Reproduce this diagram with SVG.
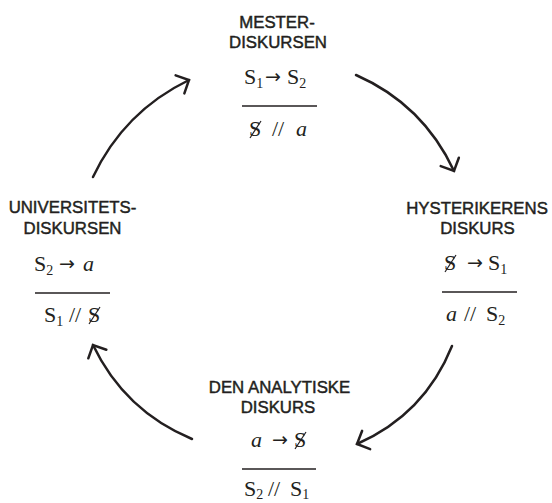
<svg xmlns="http://www.w3.org/2000/svg" width="552" height="503" viewBox="0 0 552 503">
<style>
.h{font-family:"Liberation Sans",Arial,sans-serif;font-size:16.8px;fill:#231f20;stroke:#231f20;stroke-width:0.45;text-anchor:middle}
.f{font-family:"Liberation Serif","Times New Roman",serif;font-size:22px;fill:#231f20}
.s{font-size:14px}
.i{font-style:italic}
.ar{font-family:"DejaVu Sans",sans-serif;font-size:19px;fill:#231f20}
.bar{stroke:#231f20;stroke-width:1.6}
.sl{stroke:#231f20;stroke-width:1.2}
.arr{fill:none;stroke:#231f20;stroke-width:2.5;stroke-linecap:round;marker-end:url(#ah)}
</style>
<defs>
<marker id="ah" markerUnits="userSpaceOnUse" markerWidth="30" markerHeight="30" viewBox="-15 -15 30 30" refX="0" refY="0" orient="auto">
<path d="M-10,-10 L0,0 L-10,10" fill="none" stroke="#231f20" stroke-width="2.5" stroke-linecap="round" stroke-linejoin="miter"/>
</marker>
</defs>
<g id="connectors">
<path class="arr" d="M93,177 Q124,111.5 189,80"/>
<path class="arr" d="M356,75 Q423,104.4 454,171"/>
<path class="arr" d="M452,346 Q424.5,414.4 357,444"/>
<path class="arr" d="M192,439 Q124.5,410.8 93,345"/>
</g>
<g id="mester">
<text class="h" x="277" y="28">MESTER-</text>
<text class="h" x="278" y="48">DISKURSEN</text>
<text class="f" x="244" y="84">S<tspan class="s" dy="4">1</tspan></text>
<text class="ar" x="265" y="83">→</text>
<text class="f" x="287" y="84">S<tspan class="s" dy="4">2</tspan></text>
<line class="bar" x1="242" y1="106" x2="317" y2="106"/>
<text class="f" x="249" y="136">S</text>
<line class="sl" x1="250" y1="138" x2="261" y2="121"/>
<text class="f" x="272" y="136">//</text>
<text class="f i" x="296" y="136">a</text>
</g>
<g id="universitet">
<text class="h" x="72.5" y="213">UNIVERSITETS-</text>
<text class="h" x="72.5" y="234">DISKURSEN</text>
<text class="f" x="34" y="271">S<tspan class="s" dy="4">2</tspan></text>
<text class="ar" x="59" y="270">→</text>
<text class="f i" x="83" y="271">a</text>
<line class="bar" x1="35" y1="293" x2="110" y2="293"/>
<text class="f" x="44" y="322">S<tspan class="s" dy="4">1</tspan></text>
<text class="f" x="69" y="322">//</text>
<text class="f" x="88" y="322">S</text>
<line class="sl" x1="89" y1="324" x2="100" y2="307"/>
</g>
<g id="hysteriker">
<text class="h" x="477" y="214">HYSTERIKERENS</text>
<text class="h" x="477.5" y="234">DISKURS</text>
<text class="f" x="444" y="270">S</text>
<line class="sl" x1="445" y1="272" x2="456" y2="255"/>
<text class="ar" x="467" y="269">→</text>
<text class="f" x="488" y="270">S<tspan class="s" dy="4">1</tspan></text>
<line class="bar" x1="442" y1="292" x2="517" y2="292"/>
<text class="f i" x="446" y="321">a</text>
<text class="f" x="464" y="321">//</text>
<text class="f" x="486" y="321">S<tspan class="s" dy="4">2</tspan></text>
</g>
<g id="analytiker">
<text class="h" x="279.5" y="393">DEN ANALYTISKE</text>
<text class="h" x="278" y="413">DISKURS</text>
<text class="f i" x="251" y="447">a</text>
<text class="ar" x="272" y="446">→</text>
<text class="f" x="294" y="447">S</text>
<line class="sl" x1="295" y1="449" x2="306" y2="432"/>
<line class="bar" x1="242" y1="469" x2="316" y2="469"/>
<text class="f" x="244" y="496">S<tspan class="s" dy="3">2</tspan></text>
<text class="f" x="268" y="496">//</text>
<text class="f" x="290" y="496">S<tspan class="s" dy="3">1</tspan></text>
</g>
</svg>
